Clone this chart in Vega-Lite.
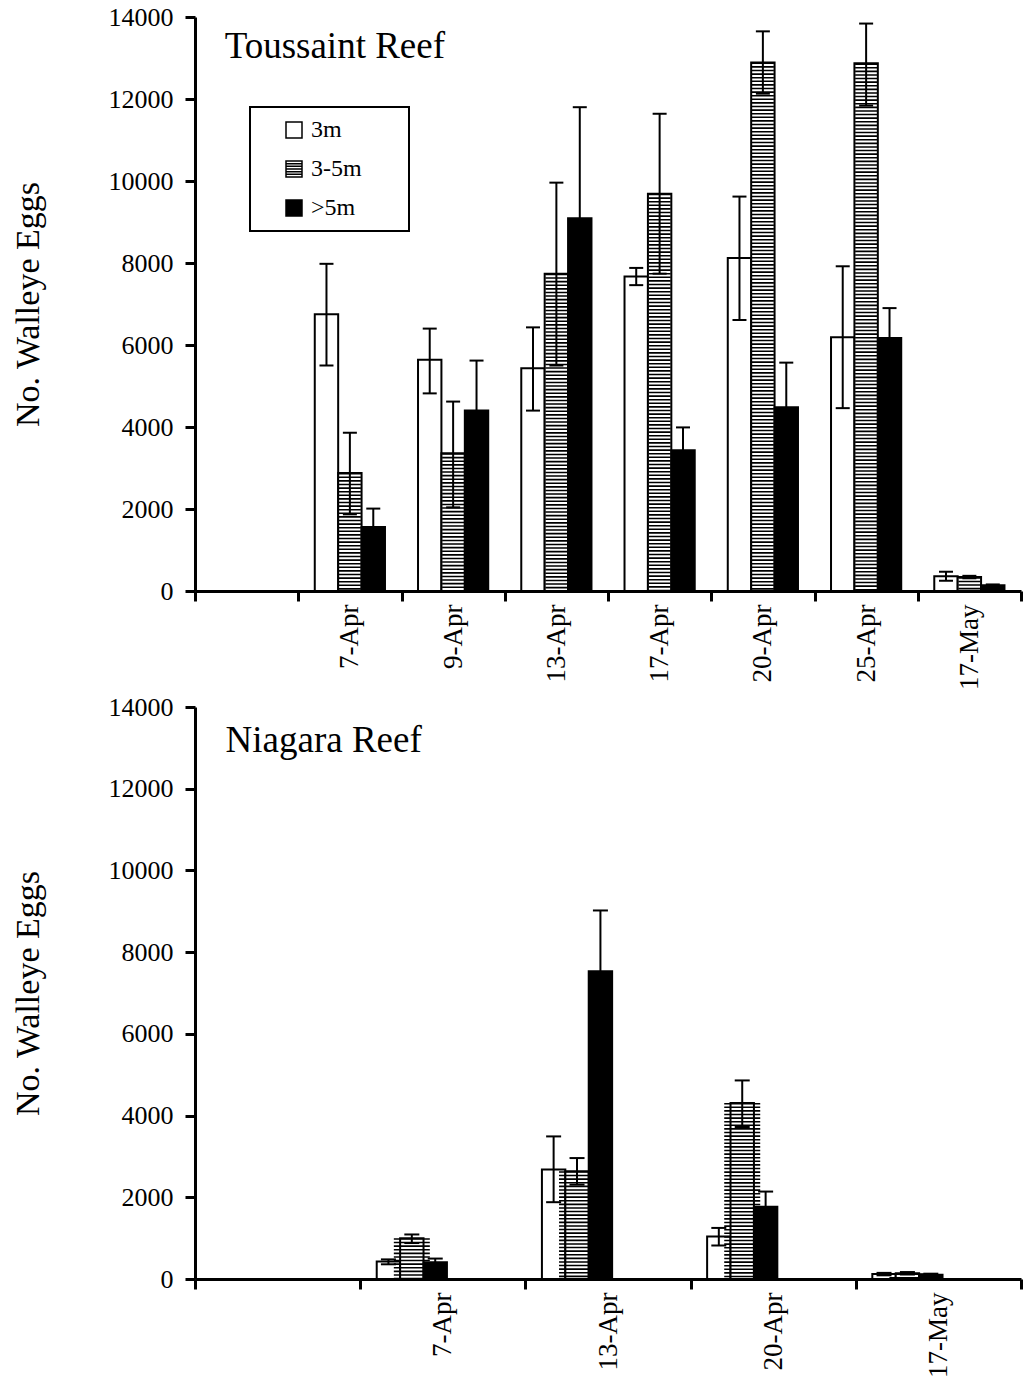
{
  "$schema": "https://vega.github.io/schema/vega-lite/v6.json",
  "background": "white",
  "padding": {"left": 11, "top": 4, "right": 0, "bottom": 0},
  "config": {
    "font": "Liberation Serif",
    "view": {"stroke": null},
    "axis": {
      "domainColor": "black", "domainWidth": 3, "tickColor": "black", "tickWidth": 3, "tickSize": 10,
      "labelColor": "black", "labelFont": "Liberation Serif", "labelFontSize": 26,
      "titleFont": "Liberation Serif", "titleFontSize": 34, "titleFontWeight": "normal", "titleColor": "black",
      "grid": false
    }
  },
  "datasets": {
    "toussaint": [
      {"date": "7-Apr", "depth": "3m", "mean": 6750, "lo": 5500, "hi": 7980},
      {"date": "7-Apr", "depth": "3-5m", "mean": 2880, "lo": 1870, "hi": 3860},
      {"date": "7-Apr", "depth": ">5m", "mean": 1560, "lo": 1100, "hi": 2010},
      {"date": "9-Apr", "depth": "3m", "mean": 5640, "lo": 4820, "hi": 6400},
      {"date": "9-Apr", "depth": "3-5m", "mean": 3360, "lo": 2040, "hi": 4620},
      {"date": "9-Apr", "depth": ">5m", "mean": 4400, "lo": 3190, "hi": 5620},
      {"date": "13-Apr", "depth": "3m", "mean": 5430, "lo": 4400, "hi": 6430},
      {"date": "13-Apr", "depth": "3-5m", "mean": 7740, "lo": 5500, "hi": 9960},
      {"date": "13-Apr", "depth": ">5m", "mean": 9090, "lo": 6380, "hi": 11800},
      {"date": "17-Apr", "depth": "3m", "mean": 7670, "lo": 7460, "hi": 7880},
      {"date": "17-Apr", "depth": "3-5m", "mean": 9690, "lo": 7740, "hi": 11640},
      {"date": "17-Apr", "depth": ">5m", "mean": 3430, "lo": 2870, "hi": 3990},
      {"date": "20-Apr", "depth": "3m", "mean": 8120, "lo": 6610, "hi": 9620},
      {"date": "20-Apr", "depth": "3-5m", "mean": 12890, "lo": 12130, "hi": 13650},
      {"date": "20-Apr", "depth": ">5m", "mean": 4480, "lo": 3390, "hi": 5570},
      {"date": "25-Apr", "depth": "3m", "mean": 6190, "lo": 4460, "hi": 7920},
      {"date": "25-Apr", "depth": "3-5m", "mean": 12870, "lo": 11840, "hi": 13840},
      {"date": "25-Apr", "depth": ">5m", "mean": 6170, "lo": 5440, "hi": 6900},
      {"date": "17-May", "depth": "3m", "mean": 360, "lo": 250, "hi": 470},
      {"date": "17-May", "depth": "3-5m", "mean": 340, "lo": 310, "hi": 370},
      {"date": "17-May", "depth": ">5m", "mean": 140, "lo": 120, "hi": 160}
    ],
    "niagara": [
      {"date": "7-Apr", "depth": "3m", "mean": 430, "lo": 360, "hi": 480},
      {"date": "7-Apr", "depth": "3-5m", "mean": 1000, "lo": 880, "hi": 1090},
      {"date": "7-Apr", "depth": ">5m", "mean": 410, "lo": 320, "hi": 500},
      {"date": "13-Apr", "depth": "3m", "mean": 2680, "lo": 1880, "hi": 3490},
      {"date": "13-Apr", "depth": "3-5m", "mean": 2640, "lo": 2310, "hi": 2960},
      {"date": "13-Apr", "depth": ">5m", "mean": 7530, "lo": 6040, "hi": 9020},
      {"date": "20-Apr", "depth": "3m", "mean": 1040, "lo": 820, "hi": 1250},
      {"date": "20-Apr", "depth": "3-5m", "mean": 4310, "lo": 3720, "hi": 4860},
      {"date": "20-Apr", "depth": ">5m", "mean": 1770, "lo": 1390, "hi": 2140},
      {"date": "17-May", "depth": "3m", "mean": 120, "lo": 90, "hi": 150},
      {"date": "17-May", "depth": "3-5m", "mean": 140, "lo": 110, "hi": 170},
      {"date": "17-May", "depth": ">5m", "mean": 105, "lo": 80, "hi": 130}
    ]
  },
  "columns": 1,
  "align": "none",
  "spacing": 4,
  "concat": [
    {
      "width": 826,
      "height": 574,
      "data": {"name": "toussaint"},
      "layer": [
        {
          "mark": {"type": "bar", "stroke": "black", "strokeWidth": 2},
          "encoding": {
            "x": {"field": "date", "type": "nominal",
              "scale": {"domain": ["", "7-Apr", "9-Apr", "13-Apr", "17-Apr", "20-Apr", "25-Apr", "17-May"], "paddingInner": 0, "paddingOuter": 0},
              "axis": {"title": null, "labelAngle": -90, "tickBand": "extent", "labelPadding": 3, "labelFontSize": 27}},
            "xOffset": {"field": "depth", "type": "nominal", "scale": {"domain": ["3m", "3-5m", ">5m"], "paddingInner": 0, "paddingOuter": 0.706}},
            "y": {"field": "mean", "type": "quantitative", "scale": {"domain": [0, 14000], "nice": false},
              "axis": {"title": "No. Walleye Eggs", "values": [0, 2000, 4000, 6000, 8000, 10000, 12000, 14000], "format": "d", "labelPadding": 12, "titlePadding": 63}},
            "fill": {"field": "depth", "type": "nominal",
              "scale": {"domain": ["3m", "3-5m", ">5m"], "range": ["white", "white", "black"]},
              "legend": {
                "orient": "none", "legendX": 55, "legendY": 90, "title": null,
                "symbolType": "square", "symbolSize": 256, "symbolStrokeColor": "black", "symbolStrokeWidth": 1.5,
                "labelFont": "Liberation Serif", "labelFontSize": 24, "labelColor": "black",
                "labelExpr": "datum.label + '\u2800\u2800'",
                "strokeColor": "black", "padding": 11, "rowPadding": 15, "symbolOffset": 21, "labelOffset": 5,
                "encode": {
                  "legend": {"update": {"strokeWidth": {"value": 2}}},
                  "symbols": {"update": {
                    "stroke": {"value": "black"},
                    "strokeWidth": {"value": 1.5},
                    "shape": [
                      {"test": "datum.value === '3-5m'", "value": "M-1,-1H1V1H-1Z M-1,-0.667H1 M-1,-0.333H1 M-1,0H1 M-1,0.333H1 M-1,0.667H1"},
                      {"value": "square"}
                    ]
                  }}
                }
              }}
          }
        },
        {
          "transform": [{"filter": "datum.depth === '3-5m'"}],
          "mark": {"type": "rule", "strokeWidth": 22, "strokeDash": [1.6, 2], "color": "black", "strokeCap": "butt"},
          "encoding": {
            "x": {"field": "date", "type": "nominal"},
            "xOffset": {"field": "depth", "type": "nominal"},
            "y": {"field": "mean", "type": "quantitative"},
            "y2": {"datum": 0}
          }
        },
        {
          "mark": {"type": "rule", "strokeWidth": 2, "color": "black"},
          "encoding": {
            "x": {"field": "date", "type": "nominal"},
            "xOffset": {"field": "depth", "type": "nominal"},
            "y": {"field": "lo", "type": "quantitative"},
            "y2": {"field": "hi"}
          }
        },
        {
          "mark": {"type": "tick", "thickness": 2, "size": 14, "color": "black", "opacity": 1},
          "encoding": {
            "x": {"field": "date", "type": "nominal"},
            "xOffset": {"field": "depth", "type": "nominal"},
            "y": {"field": "lo", "type": "quantitative"}
          }
        },
        {
          "mark": {"type": "tick", "thickness": 2, "size": 14, "color": "black", "opacity": 1},
          "encoding": {
            "x": {"field": "date", "type": "nominal"},
            "xOffset": {"field": "depth", "type": "nominal"},
            "y": {"field": "hi", "type": "quantitative"}
          }
        },
        {
          "data": {"values": [{"date": "", "label": "Toussaint Reef", "v": 13000}]},
          "mark": {"type": "text", "align": "left", "baseline": "alphabetic", "dx": -22, "fontSize": 37, "font": "Liberation Serif", "color": "black"},
          "encoding": {
            "x": {"field": "date", "type": "nominal"},
            "y": {"field": "v", "type": "quantitative"},
            "text": {"field": "label"}
          }
        }
      ]
    },
    {
      "width": 826,
      "height": 572,
      "data": {"name": "niagara"},
      "layer": [
        {
          "mark": {"type": "bar", "stroke": "black", "strokeWidth": 2},
          "encoding": {
            "x": {"field": "date", "type": "nominal",
              "scale": {"domain": ["", "7-Apr", "13-Apr", "20-Apr", "17-May"], "paddingInner": 0, "paddingOuter": 0},
              "axis": {"title": null, "labelAngle": -90, "tickBand": "extent", "labelPadding": 3, "labelFontSize": 27}},
            "xOffset": {"field": "depth", "type": "nominal", "scale": {"domain": ["3m", "3-5m", ">5m"], "paddingInner": 0, "paddingOuter": 0.706}},
            "y": {"field": "mean", "type": "quantitative", "scale": {"domain": [0, 14000], "nice": false},
              "axis": {"title": "No. Walleye Eggs", "values": [0, 2000, 4000, 6000, 8000, 10000, 12000, 14000], "format": "d", "labelPadding": 12, "titlePadding": 63}},
            "fill": {"field": "depth", "type": "nominal",
              "scale": {"domain": ["3m", "3-5m", ">5m"], "range": ["white", "white", "black"]},
              "legend": null}
          }
        },
        {
          "transform": [{"filter": "datum.depth === '3-5m'"}],
          "mark": {"type": "rule", "strokeWidth": 36, "strokeDash": [1.6, 2], "color": "black", "strokeCap": "butt"},
          "encoding": {
            "x": {"field": "date", "type": "nominal"},
            "xOffset": {"field": "depth", "type": "nominal"},
            "y": {"field": "mean", "type": "quantitative"},
            "y2": {"datum": 0}
          }
        },
        {
          "mark": {"type": "rule", "strokeWidth": 2, "color": "black"},
          "encoding": {
            "x": {"field": "date", "type": "nominal"},
            "xOffset": {"field": "depth", "type": "nominal"},
            "y": {"field": "lo", "type": "quantitative"},
            "y2": {"field": "hi"}
          }
        },
        {
          "mark": {"type": "tick", "thickness": 2, "size": 15, "color": "black", "opacity": 1},
          "encoding": {
            "x": {"field": "date", "type": "nominal"},
            "xOffset": {"field": "depth", "type": "nominal"},
            "y": {"field": "lo", "type": "quantitative"}
          }
        },
        {
          "mark": {"type": "tick", "thickness": 2, "size": 15, "color": "black", "opacity": 1},
          "encoding": {
            "x": {"field": "date", "type": "nominal"},
            "xOffset": {"field": "depth", "type": "nominal"},
            "y": {"field": "hi", "type": "quantitative"}
          }
        },
        {
          "data": {"values": [{"date": "", "label": "Niagara Reef", "v": 12900}]},
          "mark": {"type": "text", "align": "left", "baseline": "alphabetic", "dx": -52, "fontSize": 37, "font": "Liberation Serif", "color": "black"},
          "encoding": {
            "x": {"field": "date", "type": "nominal"},
            "y": {"field": "v", "type": "quantitative"},
            "text": {"field": "label"}
          }
        }
      ]
    }
  ]
}
